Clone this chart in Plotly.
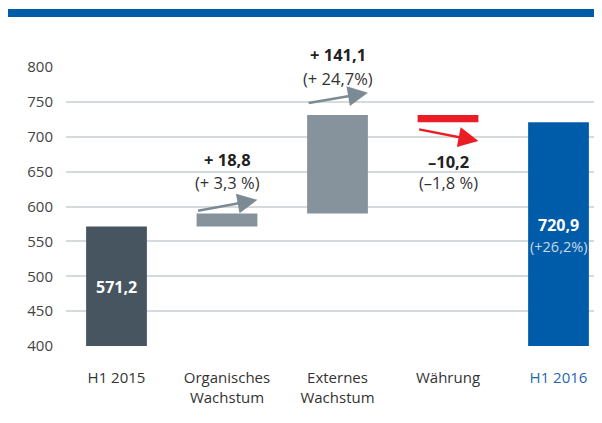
import plotly.graph_objects as go

# Data
categories = ["H1 2015", "Organisches<br>Wachstum", "Externes<br>Wachstum", "Währung", "H1 2016"]
bar_base = [400, 571.2, 590.0, 720.9, 400]
bar_value = [171.2, 18.8, 141.1, 10.2, 320.9]
bar_colors = ["#46555f", "#86939c", "#86939c", "#ec1c24", "#005ca9"]

delta_labels = ["+ 18,8", "+ 141,1", "–10,2"]
delta_pct = ["(+ 3,3 %)", "(+ 24,7%)", "(–1,8 %)"]
delta_idx = [1, 2, 3]
total_labels = ["571,2", "720,9"]
total_pct = ["", "(+26,2%)"]

x = list(range(len(categories)))
bar_w = 0.55
y_min, y_max = 400, 800


def py(v):
    # data value -> paper y (so labels above the axis range still show)
    return (v - y_min) / (y_max - y_min)


fig = go.Figure()
fig.add_trace(go.Bar(x=x, y=bar_value, base=bar_base, width=bar_w,
                     marker=dict(color=bar_colors, line=dict(width=0)),
                     hoverinfo="skip"))

annotations = []
# change labels and arrows
label_y = [(667, 634), (818, 784), (664, 635)]
arrow_y = [(593.5, 609.5), (748, 763), (711, 694)]
arrow_col = ["#7c8a93", "#7c8a93", "#ec1c24"]
for k, i in enumerate(delta_idx):
    annotations.append(dict(x=i, y=py(label_y[k][0]), yref="paper", yanchor="middle",
                            text="<b>" + delta_labels[k] + "</b>",
                            showarrow=False, font=dict(size=16.5, color="#222")))
    annotations.append(dict(x=i, y=py(label_y[k][1]), yref="paper", yanchor="middle",
                            text=delta_pct[k],
                            showarrow=False, font=dict(size=16.5, color="#333")))
    annotations.append(dict(x=i + bar_w / 2, y=arrow_y[k][1], ax=i - bar_w / 2, ay=arrow_y[k][0],
                            xref="x", yref="y", axref="x", ayref="y", text="",
                            showarrow=True, arrowhead=2, arrowsize=1.6, arrowwidth=2.5,
                            arrowcolor=arrow_col[k], standoff=0, startstandoff=0))

# totals inside bars
annotations.append(dict(x=0, y=485, text="<b>" + total_labels[0] + "</b>", showarrow=False,
                        font=dict(size=16, color="white")))
annotations.append(dict(x=4, y=573.5, text="<b>" + total_labels[1] + "</b>", showarrow=False,
                        font=dict(size=16, color="white")))
annotations.append(dict(x=4, y=542, text=total_pct[1], showarrow=False,
                        font=dict(size=14.5, color="#c8d8ea")))

tick_text = [c if c != "H1 2016" else "<span style='color:#1f68b0'>H1 2016</span>" for c in categories]

fig.update_layout(
    width=602, height=423,
    margin=dict(l=58, r=0, t=59, b=85),
    paper_bgcolor="white", plot_bgcolor="white",
    font=dict(family="Open Sans, Noto Sans, sans-serif", color="#333"),
    showlegend=False,
    annotations=annotations,
    shapes=[dict(type="rect", xref="paper", yref="paper", x0=-0.107, x1=1.0,
                 y0=1.179, y1=1.208, fillcolor="#005ca9", line=dict(width=0))],
    xaxis=dict(range=[-0.457, 4.466], tickvals=x, ticktext=tick_text,
               showgrid=False, zeroline=False, showline=False,
               ticks="outside", ticklen=18, tickcolor="rgba(0,0,0,0)",
               tickfont=dict(size=15, color="#333")),
    yaxis=dict(range=[y_min, y_max], dtick=50, showgrid=True, gridcolor="#d5dadd", gridwidth=1.5,
               zeroline=False, showline=False, ticklabelstandoff=12,
               tickfont=dict(size=15, color="#444")),
)

fig.write_html("out.html")
